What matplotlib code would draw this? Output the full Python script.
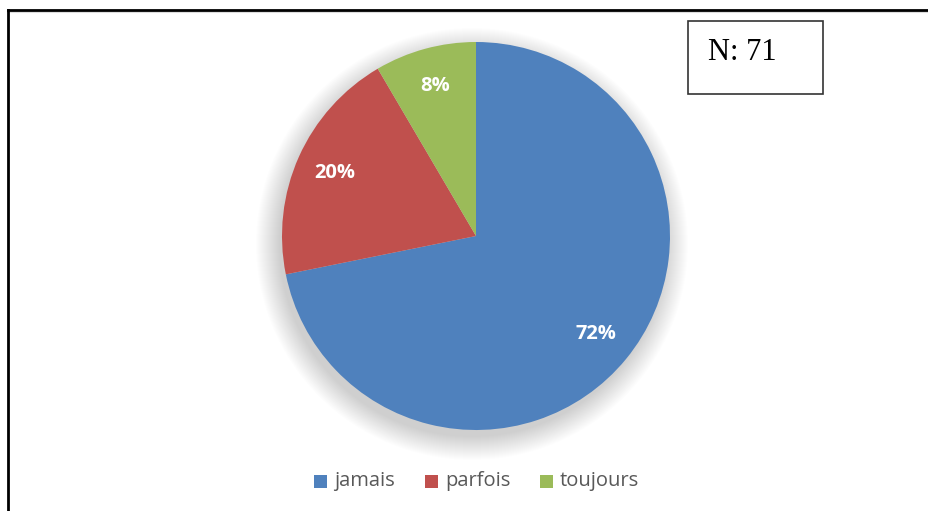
import matplotlib
matplotlib.use("Agg")
import matplotlib.pyplot as plt
from matplotlib.patches import Circle, Rectangle
from matplotlib.lines import Line2D

categories = ["jamais", "parfois", "toujours"]
counts = [51, 14, 6]
pct_labels = ["72%", "20%", "8%"]
colors = ["#4F81BD", "#C0504D", "#9BBB59"]
n_label = "N: 71"

W, H = 929, 511
fig = plt.figure(figsize=(W / 100, H / 100), dpi=100)
ax = fig.add_axes([0, 0, 1, 1])

cx, cy, R = 476, H - 236, 194

# soft shadow (stronger toward the lower left)
for i in range(24):
    r = R + 22 - i * 1.0
    ax.add_patch(Circle((cx - 4, cy - 8), r, color="black", alpha=0.007, lw=0, zorder=1))

wedges, texts = ax.pie(counts, colors=colors, startangle=90, counterclock=False,
                       center=(cx, cy), radius=R, labels=pct_labels, labeldistance=0.8,
                       wedgeprops=dict(linewidth=0, zorder=2), frame=True)
for t in texts:
    t.set_color("white")
    t.set_fontweight("bold")
    t.set_fontsize(14.5)
    t.set_family("Open Sans")
    t.set_ha("center")
    t.set_va("center")
    t.set_zorder(3)
ax.set_xlim(0, W)
ax.set_ylim(0, H)
ax.set_aspect("equal")
ax.axis("off")

# outer frame lines
ax.add_line(Line2D([8, 8], [0, H - 10], color="black", lw=2, zorder=5))
ax.add_line(Line2D([8, W], [H - 10, H - 10], color="black", lw=2, zorder=5))
ax.add_line(Line2D([8, W], [H - 12, H - 12], color="#dddddd", lw=1.5, zorder=4))

# N box
ax.add_patch(Rectangle((688, H - 94), 135, 73, fill=True, facecolor="white",
                       edgecolor="#333333", lw=1.2, zorder=5))
ax.text(708, H - 60, n_label, family="Liberation Serif", fontsize=22, color="black",
        ha="left", va="baseline", zorder=6)

# legend
lx = [314, 425, 540]
for x, c, lab in zip(lx, colors, categories):
    ax.add_patch(Rectangle((x, H - 488), 13, 13, facecolor=c, lw=0, zorder=5))
    ax.text(x + 20, H - 481, lab, family="Open Sans", fontsize=14.5, color="#595959",
            ha="left", va="center", zorder=6)

fig.savefig("out.png", dpi=100)
